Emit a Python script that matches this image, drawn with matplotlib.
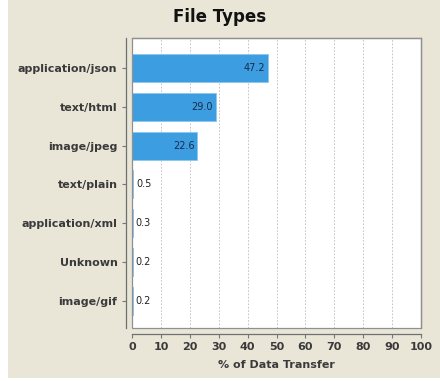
import matplotlib
matplotlib.use("Agg")
import matplotlib.pyplot as plt
from matplotlib.patches import Rectangle

categories = ["application/json", "text/html", "image/jpeg", "text/plain",
              "application/xml", "Unknown", "image/gif"]
values = [47.2, 29.0, 22.6, 0.5, 0.3, 0.2, 0.2]
x_ticks = [0, 10, 20, 30, 40, 50, 60, 70, 80, 90, 100]

BG = "#E9E6D8"
BAR = "#3C9EE0"
TXT = "#3A3A3A"

fig = plt.figure(figsize=(4.4, 3.81), dpi=100)
fig.patch.set_facecolor("white")
fig.patches.append(Rectangle((8/440, 3/381), 1 - 8/440, 1 - 3/381,
                             transform=fig.transFigure, facecolor=BG,
                             edgecolor="none", zorder=-10))

ax = fig.add_axes([132/440, 1 - 328/381, (421 - 132)/440, (328 - 38)/381])
ax.set_facecolor("white")

pos = list(range(len(categories)))
ax.barh(pos, values, height=0.72, color=BAR, edgecolor="#8CC8F0",
        linewidth=0.6, zorder=3)

for p, v in zip(pos, values):
    if v > 5:
        ax.text(v - 1.0, p, f"{v:.1f}", ha="right", va="center",
                fontsize=7, color="#1A2A4A", zorder=4)
    else:
        ax.text(v + 0.9, p, f"{v:.1f}", ha="left", va="center",
                fontsize=7, color="#222222", zorder=4)

ax.set_xlim(0, 100)
ax.set_ylim(6.70, -0.77)
ax.set_xticks(x_ticks)
ax.set_xticklabels([str(t) for t in x_ticks])
ax.set_yticks(pos)
ax.set_yticklabels(categories)

ax.grid(axis="x", color="#BBBBBB", linestyle=(0, (2, 2)), linewidth=0.6, zorder=1)
ax.set_axisbelow(True)

for s in ["top", "right"]:
    ax.spines[s].set_color("#808080")
    ax.spines[s].set_linewidth(0.9)
for s in ["left", "bottom"]:
    ax.spines[s].set_position(("outward", 4))
    ax.spines[s].set_color("#707070")
    ax.spines[s].set_linewidth(0.9)
ax.add_patch(Rectangle((0, 0), 1, 1, transform=ax.transAxes, fill=False,
                       edgecolor="#909090", linewidth=0.9, zorder=5, clip_on=False))

ax.tick_params(axis="both", colors="#777777", labelcolor=TXT, length=3, width=0.8)
ax.tick_params(axis="x", pad=3)
for lab in ax.get_yticklabels():
    lab.set_fontweight("bold")
    lab.set_fontsize(8)
for lab in ax.get_xticklabels():
    lab.set_fontweight("bold")
    lab.set_fontsize(8)

ax.set_xlabel("% of Data Transfer", fontsize=8, fontweight="bold", color=TXT, labelpad=6)
fig.text(0.5, 1 - 17/381, "File Types", ha="center", va="center",
         fontsize=12, fontweight="bold", color="#111111")

fig.savefig("out.png", dpi=100, facecolor=fig.get_facecolor())
